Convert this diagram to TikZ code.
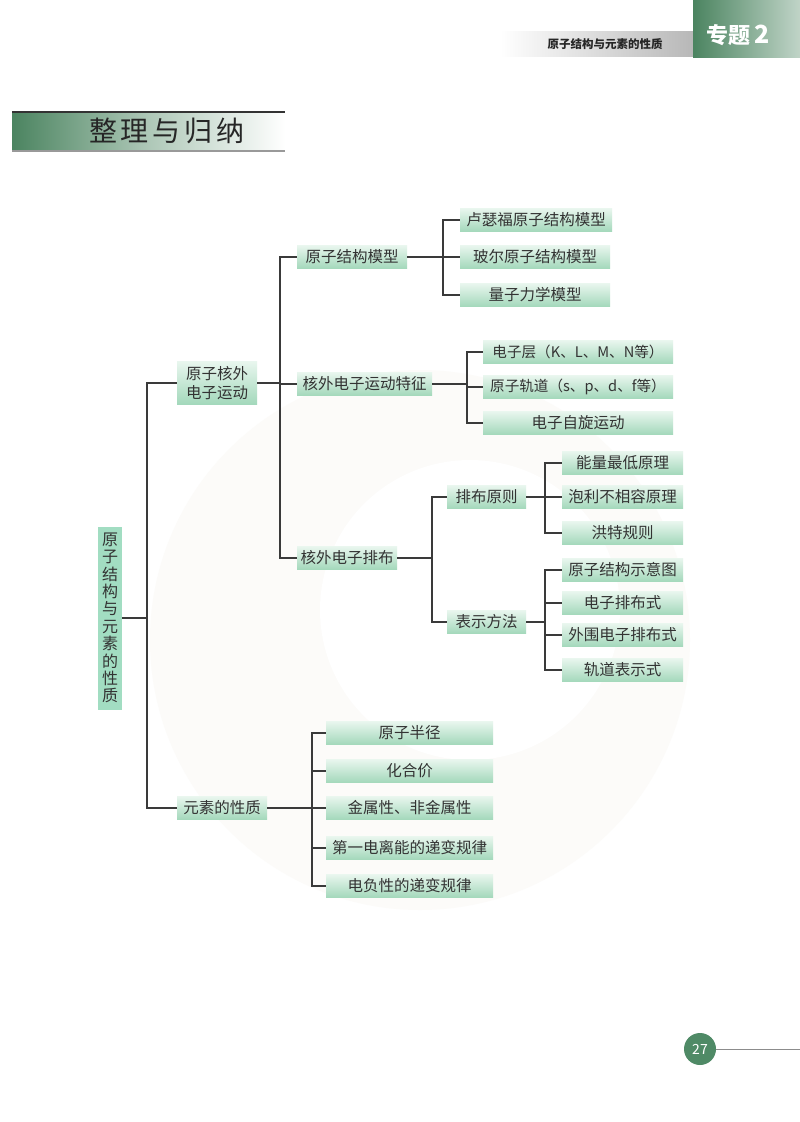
\documentclass[tikz,border=0pt]{standalone}
\usepackage{fontspec}
\setmainfont{Noto Sans CJK SC}
\usetikzlibrary{calc}
\definecolor{mintT}{HTML}{E8F6EE}
\definecolor{mintB}{HTML}{A3D8BB}
\definecolor{rootG}{HTML}{A2DDC2}
\definecolor{txtG}{HTML}{333333}
\definecolor{lineG}{HTML}{3A3A3A}
\definecolor{darkG}{HTML}{4B8460}
\definecolor{pageG}{HTML}{4F8A66}
\definecolor{wmark}{HTML}{FCFBF9}
\tikzset{
  mbox/.style={shape=rectangle, top color=mintT, bottom color=mintB, draw=none,
    minimum height=23pt, inner sep=0pt, text=txtG, font=\fontsize{15.5}{17}\selectfont},
  conn/.style={draw=lineG, line width=1.1pt},
}
\begin{document}
\begin{tikzpicture}[x=1pt,y=-1pt]
\useasboundingbox (0,0) rectangle (800,1122);
\fill[white] (0,0) rectangle (800,1122);
% faint watermark
\fill[wmark] (420,640) circle (270);
\fill[white] (470,610) circle (150);
% header
\shade[left color=white, right color=black!28] (500,31) rectangle (693,56);
\node[font=\fontsize{11.5}{13}\selectfont\bfseries, text=black!85] (hdr) at (605,44) {原子结构与元素的性质};
\shade[left color=darkG, right color=darkG!35] (693,0) rectangle (800,57);
\node[font=\fontsize{22}{24}\selectfont\bfseries, text=white] (zt) at (738,35) {专题\,\fontsize{25}{26}\selectfont 2};
% title
\shade[left color=darkG, right color=white, middle color=darkG!45] (12,112) rectangle (285,151);
\draw[black!80, line width=1.3pt] (12,112) -- (285,112);
\draw[black!40, line width=1.3pt] (12,151) -- (285,151);
\node[font=\fontsize{28}{30}\selectfont, text=black!85] (title) at (167,131) {整\hspace{4pt}理\hspace{4pt}与\hspace{4pt}归\hspace{4pt}纳};
% page number
\node[circle, fill=pageG, minimum size=32pt, inner sep=0pt, text=white, font=\fontsize{14}{16}\selectfont] (pg) at (700,1049) {27};
\coordinate (pgend) at (800,1049);
\draw[black!45, line width=0.8pt] (pg.east) -- (pgend);

% root
\node[shape=rectangle, fill=rootG, minimum width=24pt, minimum height=183pt, inner sep=0pt, text=txtG,
  align=center, font=\fontsize{16}{17.4}\selectfont] (root) at (110,618) {原\\子\\结\\构\\与\\元\\素\\的\\性\\质};

% level 1
\node[mbox, minimum width=80pt, minimum height=43pt, align=center, font=\fontsize{15.5}{19}\selectfont] (hw) at (217,383) {原子核外\\电子运动};
\node[mbox, minimum width=90pt] (ys) at (222,808) {元素的性质};

% level 2
\node[mbox, minimum width=110pt] (mx) at (352,257) {原子结构模型};
\node[mbox, minimum width=135pt] (tz) at (364.5,384) {核外电子运动特征};
\node[mbox, minimum width=100pt] (pb) at (347,558) {核外电子排布};

% level 3 models
\node[mbox, minimum width=152pt] (m1) at (536,220) {卢瑟福原子结构模型};
\node[mbox, minimum width=150pt] (m2) at (535,257) {玻尔原子结构模型};
\node[mbox, minimum width=150pt] (m3) at (535,295) {量子力学模型};

% level 3 features
\node[mbox, minimum width=190pt, font=\fontsize{14.6}{17}\selectfont] (f1) at (578,352) {电子层（K、L、M、N等）};
\node[mbox, minimum width=190pt, font=\fontsize{14.6}{17}\selectfont] (f2) at (578,387) {原子轨道（s、p、d、f等）};
\node[mbox, minimum width=190pt] (f3) at (578,423) {电子自旋运动};

% level 3 arrangement
\node[mbox, minimum width=79pt] (yz) at (486.5,497) {排布原则};
\node[mbox, minimum width=79pt] (ff) at (486.5,622) {表示方法};

\node[mbox, minimum width=121pt] (y1) at (622.5,463) {能量最低原理};
\node[mbox, minimum width=121pt] (y2) at (622.5,497) {泡利不相容原理};
\node[mbox, minimum width=121pt] (y3) at (622.5,533) {洪特规则};

\node[mbox, minimum width=121pt] (b1) at (622.5,570) {原子结构示意图};
\node[mbox, minimum width=121pt] (b2) at (622.5,603) {电子排布式};
\node[mbox, minimum width=121pt] (b3) at (622.5,635) {外围电子排布式};
\node[mbox, minimum width=121pt] (b4) at (622.5,670) {轨道表示式};

% element properties
\node[mbox, minimum width=167pt] (e1) at (409.5,733) {原子半径};
\node[mbox, minimum width=167pt] (e2) at (409.5,771) {化合价};
\node[mbox, minimum width=167pt] (e3) at (409.5,808) {金属性、非金属性};
\node[mbox, minimum width=167pt] (e4) at (409.5,848) {第一电离能的递变规律};
\node[mbox, minimum width=167pt] (e5) at (409.5,886) {电负性的递变规律};

% trunk x positions
\coordinate (t0) at (147,0);
\coordinate (t1) at (280,0);
\coordinate (t2) at (443,0);
\coordinate (t3) at (467,0);
\coordinate (t4) at (432,0);
\coordinate (t5) at (545,0);
\coordinate (t6) at (312,0);

% connectors
\foreach \c in {hw,ys}
  \draw[conn] (root.east) -- (root.east -| t0) |- (\c.west);
\foreach \c in {mx,tz,pb}
  \draw[conn] (hw.east) -- (hw.east -| t1) |- (\c.west);
\foreach \c in {m1,m2,m3}
  \draw[conn] (mx.east) -- (mx.east -| t2) |- (\c.west);
\foreach \c in {f1,f2,f3}
  \draw[conn] (tz.east) -- (tz.east -| t3) |- (\c.west);
\foreach \c in {yz,ff}
  \draw[conn] (pb.east) -- (pb.east -| t4) |- (\c.west);
\foreach \c in {y1,y2,y3}
  \draw[conn] (yz.east) -- (yz.east -| t5) |- (\c.west);
\foreach \c in {b1,b2,b3,b4}
  \draw[conn] (ff.east) -- (ff.east -| t5) |- (\c.west);
\foreach \c in {e1,e2,e3,e4,e5}
  \draw[conn] (ys.east) -- (ys.east -| t6) |- (\c.west);
\end{tikzpicture}
\end{document}
